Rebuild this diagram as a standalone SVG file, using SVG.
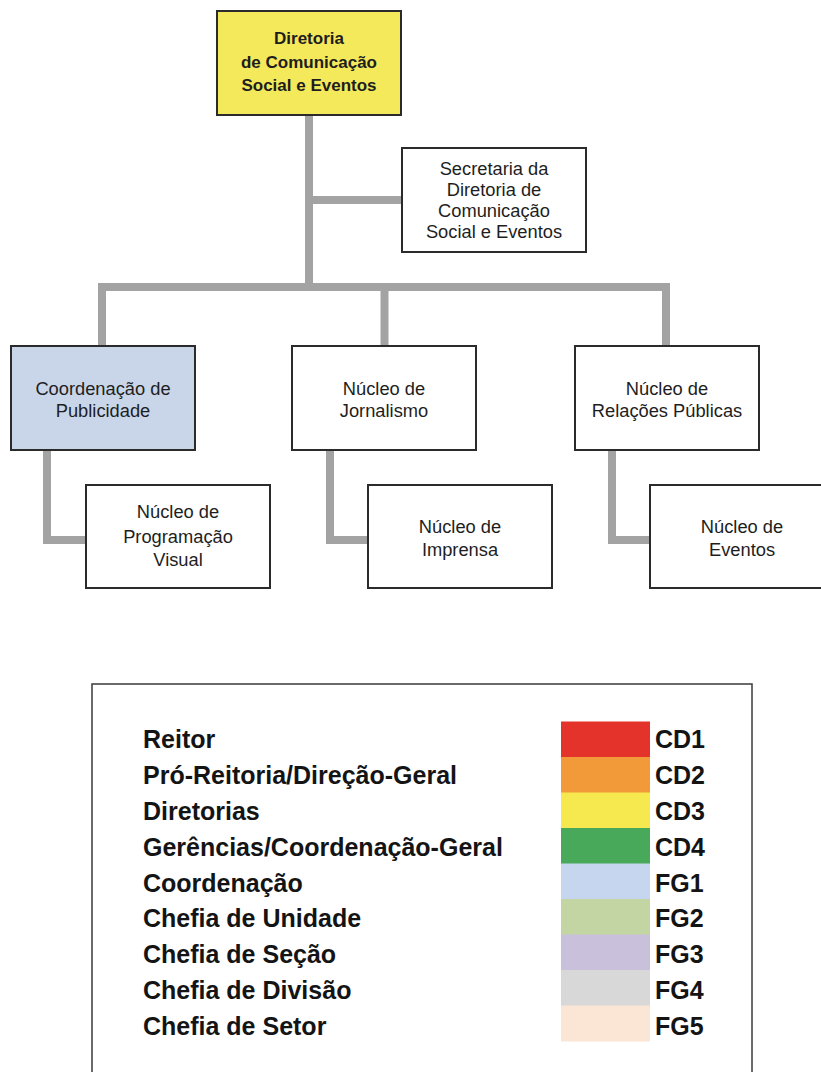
<svg xmlns="http://www.w3.org/2000/svg" width="821" height="1072" viewBox="0 0 821 1072">
<style>
.box{fill:#ffffff;stroke:#2b2b2b;stroke-width:2}
.t{font-family:"Liberation Sans",Arial,sans-serif;font-size:18.3px;fill:#1e1e1e;text-anchor:middle}
.tb{font-weight:bold;font-size:17px}
.c{stroke:#a3a3a3;stroke-width:8;fill:none}
.lg{font-family:"Liberation Sans",Arial,sans-serif;font-size:25px;font-weight:bold;fill:#141414}
</style>
<rect width="821" height="1072" fill="#ffffff"/>
<g id="connectors">
<path class="c" d="M309,114 V287"/>
<path class="c" d="M309,200 H402"/>
<path class="c" d="M98,287 H670"/>
<path class="c" d="M102,287 V346"/>
<path class="c" d="M384.5,287 V346"/>
<path class="c" d="M666,287 V346"/>
<path class="c" d="M47,449 V540 H86"/>
<path class="c" d="M330,449 V540 H368"/>
<path class="c" d="M612,449 V540 H650"/>
</g>
<g id="n-diretoria">
<rect class="box" x="217" y="11" width="184" height="104" style="fill:#f4e95a"/>
<text class="t tb" x="309" y="44">Diretoria</text>
<text class="t tb" x="309" y="67.5">de Comunicação</text>
<text class="t tb" x="309" y="90.5">Social e Eventos</text>
</g>
<g id="n-secretaria">
<rect class="box" x="402" y="148" width="184" height="104"/>
<text class="t" x="494" y="175">Secretaria da</text>
<text class="t" x="494" y="196">Diretoria de</text>
<text class="t" x="494" y="217">Comunicação</text>
<text class="t" x="494" y="238">Social e Eventos</text>
</g>
<g id="n-coordenacao">
<rect class="box" x="11" y="346" width="184" height="104" style="fill:#c9d6ea"/>
<text class="t" x="103" y="395">Coordenação de</text>
<text class="t" x="103" y="417">Publicidade</text>
</g>
<g id="n-jornalismo">
<rect class="box" x="292" y="346" width="184" height="104"/>
<text class="t" x="384" y="395">Núcleo de</text>
<text class="t" x="384" y="417">Jornalismo</text>
</g>
<g id="n-relacoes">
<rect class="box" x="575" y="346" width="184" height="104"/>
<text class="t" x="667" y="395">Núcleo de</text>
<text class="t" x="667" y="417">Relações Públicas</text>
</g>
<g id="n-programacao">
<rect class="box" x="86" y="485" width="184" height="103"/>
<text class="t" x="178" y="518">Núcleo de</text>
<text class="t" x="178" y="542.5">Programação</text>
<text class="t" x="178" y="566">Visual</text>
</g>
<g id="n-imprensa">
<rect class="box" x="368" y="485" width="184" height="103"/>
<text class="t" x="460" y="532.5">Núcleo de</text>
<text class="t" x="460" y="556">Imprensa</text>
</g>
<g id="n-eventos">
<rect class="box" x="650" y="485" width="184" height="103"/>
<text class="t" x="742" y="532.5">Núcleo de</text>
<text class="t" x="742" y="556">Eventos</text>
</g>
<g id="legend">
<rect x="92" y="684" width="660" height="400" fill="#ffffff" stroke="#3a3a3a" stroke-width="1.5"/>
<rect x="561" y="721.5" width="89" height="36" fill="#e4332a"/>
<rect x="561" y="757" width="89" height="36" fill="#f29a3a"/>
<rect x="561" y="792.5" width="89" height="36" fill="#f6e84f"/>
<rect x="561" y="828" width="89" height="36" fill="#48a95a"/>
<rect x="561" y="863.5" width="89" height="36" fill="#c6d6ee"/>
<rect x="561" y="899" width="89" height="36" fill="#c3d5a3"/>
<rect x="561" y="934.5" width="89" height="36" fill="#c9c1dc"/>
<rect x="561" y="970" width="89" height="36" fill="#d8d8d8"/>
<rect x="561" y="1005.5" width="89" height="36" fill="#fbe6d6"/>
<text class="lg" x="143" y="748">Reitor</text>
<text class="lg" x="143" y="784">Pró-Reitoria/Direção-Geral</text>
<text class="lg" x="143" y="820">Diretorias</text>
<text class="lg" x="143" y="856">Gerências/Coordenação-Geral</text>
<text class="lg" x="143" y="892">Coordenação</text>
<text class="lg" x="143" y="927">Chefia de Unidade</text>
<text class="lg" x="143" y="963">Chefia de Seção</text>
<text class="lg" x="143" y="999">Chefia de Divisão</text>
<text class="lg" x="143" y="1035">Chefia de Setor</text>
<text class="lg" x="655" y="748">CD1</text>
<text class="lg" x="655" y="784">CD2</text>
<text class="lg" x="655" y="820">CD3</text>
<text class="lg" x="655" y="856">CD4</text>
<text class="lg" x="655" y="892">FG1</text>
<text class="lg" x="655" y="927">FG2</text>
<text class="lg" x="655" y="963">FG3</text>
<text class="lg" x="655" y="999">FG4</text>
<text class="lg" x="655" y="1035">FG5</text>
</g>
</svg>
